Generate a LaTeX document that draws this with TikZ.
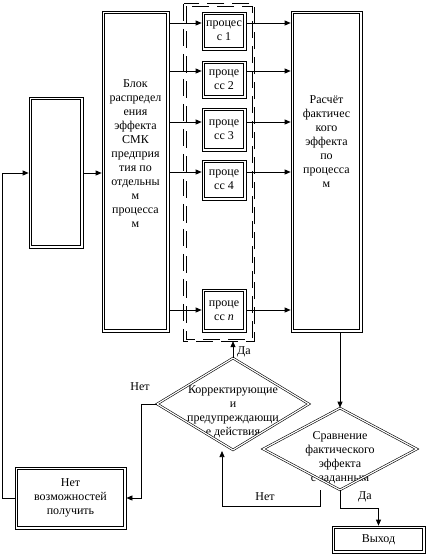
\documentclass[tikz,border=0pt]{standalone}
\usepackage{fontspec}
\setmainfont{Liberation Serif}
\usetikzlibrary{arrows.meta,shapes.geometric}
\begin{document}
\begin{tikzpicture}[x=1pt,y=-1pt,
  txt/.style={font=\fontsize{12}{14}\selectfont, align=center, inner sep=0pt},
  dbox/.style={draw, line width=0.7pt, inner sep=0pt, txt,
    path picture={\draw[line width=1.3pt] ([shift={(2.6pt,-2.6pt)}]path picture bounding box.north west) rectangle ([shift={(-2.6pt,2.6pt)}]path picture bounding box.south east);}},
  pbox/.style={dbox, minimum width=44pt},
  dashline/.style={draw, line width=0.8pt, dash pattern=on 17pt off 8pt},
  dia/.style={draw, shape=diamond, line width=0.6pt, double, double distance=1.2pt, inner sep=0pt},
  arr/.style={line width=0.7pt, -{Triangle[length=6pt,width=5pt]}}]
\useasboundingbox (0,0) rectangle (427,560);

% dashed group
\node[inner sep=0pt, minimum width=70pt, minimum height=337pt] (grp) at (219,172.5) {};
\draw[dashline] (grp.north west) rectangle (grp.south east);
\draw[dashline] ([shift={(2.2pt,-2.2pt)}]grp.north west) rectangle ([shift={(-2.2pt,2.2pt)}]grp.south east);

% main boxes
\node[dbox, minimum width=54pt, minimum height=151pt] (lb) at (56,172.5) {};
\node[dbox, minimum width=67pt, minimum height=321pt] (blk) at (135.5,171.5) {};
\node[txt] (blkt) at (135.5,154) {Блок\\распредел\\ения\\эффекта\\СМК\\предприя\\тия по\\отдельны\\м\\процесса\\м};
\node[dbox, minimum width=71pt, minimum height=321pt] (calc) at (326.5,171.5) {};
\node[txt] (calct) at (326.5,142) {Расчёт\\фактичес\\кого\\эффекта\\по\\процесса\\м};

% processes
\node[pbox, minimum height=38pt] (p1) at (224,31) {процес\\с 1};
\node[pbox, minimum height=37pt] (p2) at (224,79.5) {проце\\сс 2};
\node[pbox, minimum height=43pt] (p3) at (224,129.5) {проце\\сс 3};
\node[pbox, minimum height=40pt] (p4) at (224,180) {проце\\сс 4};
\node[pbox, minimum height=43pt] (pn) at (224,310.5) {проце\\сс \textit{n}};

\coordinate (y1) at (0,23);
\coordinate (y2) at (0,71);
\coordinate (y3) at (0,122);
\coordinate (y4) at (0,172);
\coordinate (yn) at (0,310);
\foreach \n/\yy in {p1/y1,p2/y2,p3/y3,p4/y4,pn/yn} {
  \draw[arr] (blk.east |- \yy) -- (\n.west |- \yy);
  \draw[arr] (\n.east |- \yy) -- (calc.west |- \yy);
}

% diamonds
\node[txt] (d1t) at (233,412) {Корректирующие\\и\\предупреждающи\\е действия};
\node[dia, minimum width=152pt, minimum height=92pt] (d1) at (233,404) {};
\node[txt] (d2t) at (340,458) {Сравнение\\фактического\\эффекта\\с заданным};
\node[dia, minimum width=154pt, minimum height=82pt] (d2) at (340,449) {};

% bottom boxes
\node[dbox, minimum width=111pt, minimum height=62pt] (net) at (70.5,498) {Нет\\возможностей\\получить};
\node[dbox, minimum width=93pt, minimum height=27pt] (vy) at (378.5,539.5) {Выход};

% labels
\node[txt] (lno1) at (140,387) {Нет};
\node[txt] (lyes1) at (244,352) {Да};
\node[txt] (lno2) at (265,497) {Нет};
\node[txt] (lyes2) at (365,497) {Да};

% connectors
\coordinate (c1) at (2,173);
\draw[arr] (net.west) -| (c1) -- (lb.west |- c1);
\draw[arr] (lb.east |- c1) -- (blk.west |- c1);
\draw[arr] (d1.north) -- (d1.north |- grp.south);
\draw[arr] (d1.west) -- ++(-15,0) |- (net.east);
\draw[arr] (calc.south -| d2.north) -- (d2.north);
\draw[arr] (d2.south) -- ++(0,18) -| (vy.north);
\coordinate (n2) at (320,490);
\coordinate (d1in) at (222,451);
\draw[arr] (n2) -- ++(0,16) -| (d1in);
\end{tikzpicture}
\end{document}
